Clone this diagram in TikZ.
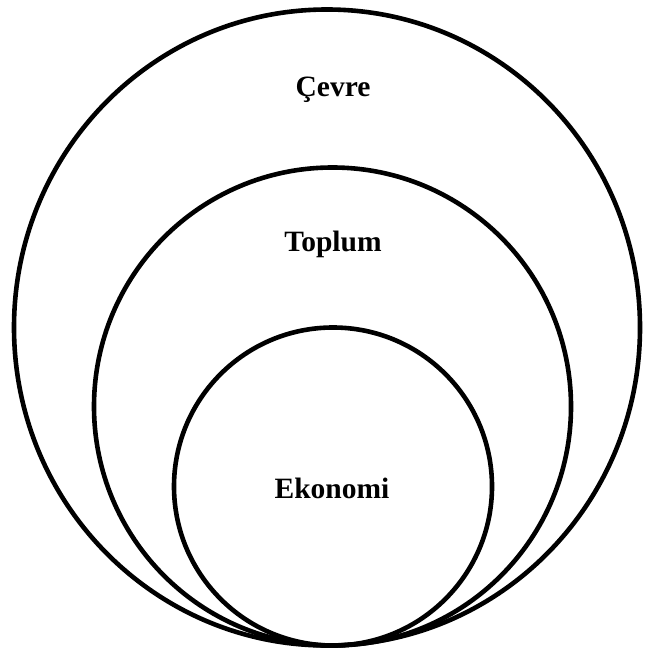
\documentclass[tikz,border=0pt]{standalone}
\usepackage{fontspec}
\setmainfont{Liberation Serif}
\begin{document}
\begin{tikzpicture}[x=1pt,y=-1pt,
  ring/.style={draw=black,line width=4.6pt},
  lbl/.style={font=\fontsize{29.5}{33}\selectfont\bfseries,inner sep=0pt,anchor=base}]
\useasboundingbox (0,0) rectangle (645,652);
\draw[ring] (327,327.5) ellipse [x radius=313, y radius=318];
\draw[ring] (332.5,406.5) ellipse [x radius=238.5, y radius=239];
\draw[ring] (333,486.5) ellipse [x radius=159, y radius=159];
\node[lbl] (cevre) at (333,97) {Çevre};
\node[lbl] (toplum) at (333,251) {Toplum};
\node[lbl] (ekonomi) at (332,498) {Ekonomi};
\end{tikzpicture}
\end{document}
